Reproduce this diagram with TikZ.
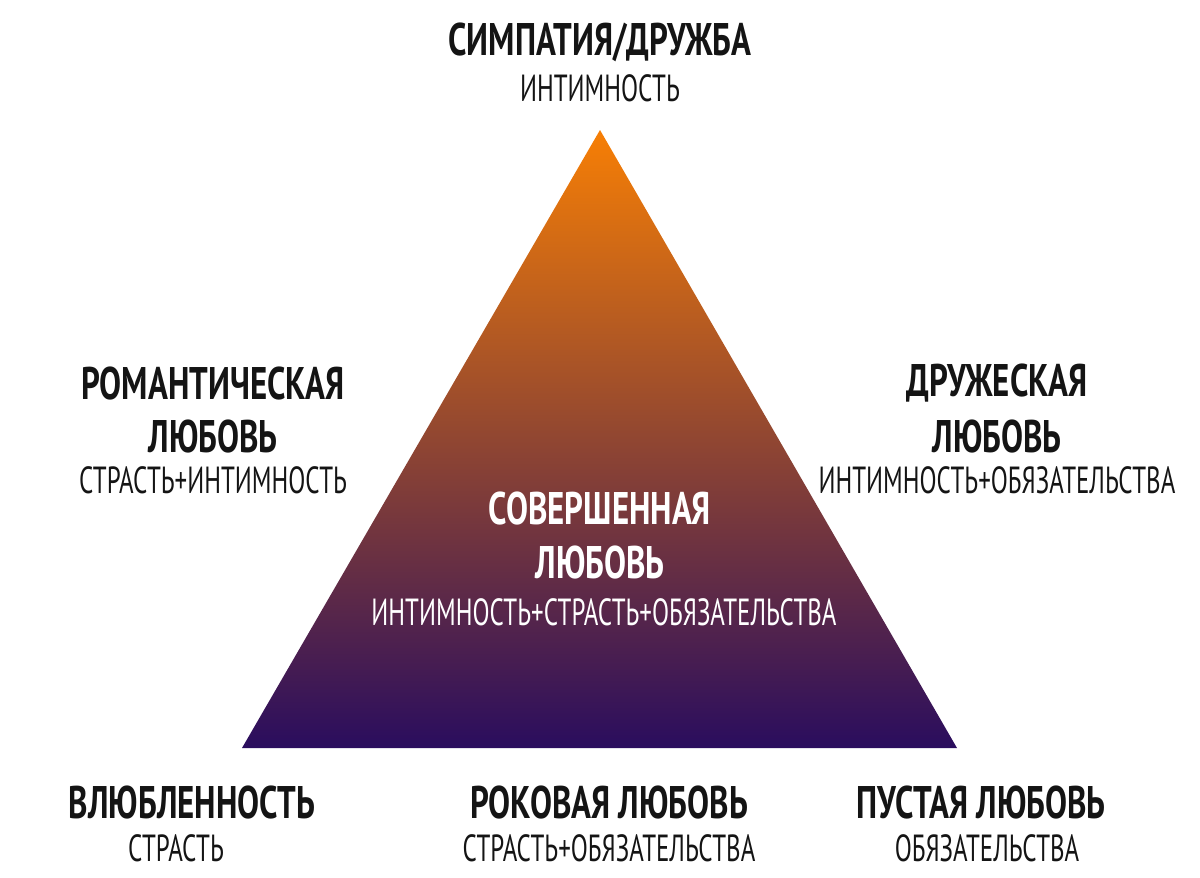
\documentclass[tikz,border=0pt]{standalone}
\usepackage{fontspec}
\setmainfont{PT Sans}[FakeStretch=0.72]
\newfontfamily\subfont{PT Sans}[FakeStretch=0.66]
\usepackage{xcolor}
\usepackage{tikz}
\usetikzlibrary{positioning}
\definecolor{loveorange}{HTML}{F77F05}
\definecolor{lovebrown}{HTML}{8A4236}
\definecolor{lovepurple}{HTML}{2A0D5E}
\definecolor{loveink}{HTML}{141414}

\begin{document}
\begin{tikzpicture}[x=0.02cm, y=-0.02cm, title/.style={font=\fontsize{26}{28}\selectfont\bfseries, text=loveink, inner sep=0pt, align=center}, sub/.style={font=\subfont\fontsize{21.5}{24}\selectfont, text=loveink, inner sep=0pt, align=center}]
\useasboundingbox (0,0) rectangle (1200,877);
\shade[top color=loveorange, middle color=lovebrown, bottom color=lovepurple] (600,130) -- (957,748) -- (242,748) -- cycle;
% apex
\node[title] (apex) at (600,42) {СИМПАТИЯ/ДРУЖБА};
\node[sub] (apexsub) at (600,88) {ИНТИМНОСТЬ};
% left and right sides
\node[title] (roman) at (213,383) {РОМАНТИЧЕСКАЯ};
\node[title] (romanb) at (213,436) {ЛЮБОВЬ};
\node[sub] (romansub) at (213,480) {СТРАСТЬ+ИНТИМНОСТЬ};
\node[title] (friend) at (997,383) {ДРУЖЕСКАЯ};
\node[title] (friendb) at (997,436) {ЛЮБОВЬ};
\node[sub] (friendsub) at (997,480) {ИНТИМНОСТЬ+ОБЯЗАТЕЛЬСТВА};
% centre
\node[title, text=white] (perfect) at (600,508) {СОВЕРШЕННАЯ};
\node[title, text=white] (perfectb) at (600,562) {ЛЮБОВЬ};
\node[sub, text=white] (perfectsub) at (604,612) {ИНТИМНОСТЬ+СТРАСТЬ+ОБЯЗАТЕЛЬСТВА};
% base corners
\node[title] (crush) at (192,802) {ВЛЮБЛЕННОСТЬ};
\node[sub] (crushsub) at (176,848) {СТРАСТЬ};
\node[title] (fatal) at (609,802) {РОКОВАЯ ЛЮБОВЬ};
\node[sub] (fatalsub) at (609,848) {СТРАСТЬ+ОБЯЗАТЕЛЬСТВА};
\node[title] (empty) at (981,802) {ПУСТАЯ ЛЮБОВЬ};
\node[sub] (emptysub) at (987,848) {ОБЯЗАТЕЛЬСТВА};
\end{tikzpicture}
\end{document}
